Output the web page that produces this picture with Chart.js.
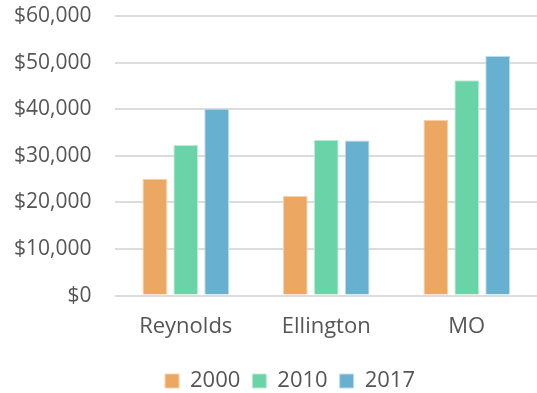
<!DOCTYPE html>
<html>
<head>
<meta charset="utf-8">
<script src="https://cdn.jsdelivr.net/npm/chart.js@4/dist/chart.umd.min.js"></script>
<style>
  html, body { margin: 0; padding: 0; background: #ffffff; }
  #wrap { width: 537px; height: 393px; }
</style>
</head>
<body>
<div id="wrap"><canvas id="chart" width="537" height="393"></canvas></div>
<script>
// Median household income by area and year
const areas = ["Reynolds", "Ellington", "MO"];
const years = ["2000", "2010", "2017"];
const income2000 = [25100, 21400, 37700];
const income2010 = [32300, 33400, 46200];
const income2017 = [40100, 33300, 51400];
const yTicks = [0, 10000, 20000, 30000, 40000, 50000, 60000];

const fills = ["#eca862", "#6bd3a8", "#68b0d0"];
const edges = ["#f6d2ac", "#b9ecd6", "#b8dcec"];
const seriesValues = [income2000, income2010, income2017];

const fontFamily = "'Open Sans', Lato, sans-serif";
const textColor = "#555555";

// nudges the centred legend row to the right
const legendOffset = {
  id: "legendOffset",
  afterLayout(chart) {
    const lg = chart.legend;
    if (lg) { lg.left += 25; lg.right += 25; }
  }
};

new Chart(document.getElementById("chart"), {
  type: "bar",
  data: {
    labels: areas,
    datasets: years.map((y, i) => ({
      label: y,
      data: seriesValues[i],
      backgroundColor: fills[i],
      borderColor: edges[i],
      borderWidth: 1,
      categoryPercentage: 0.66,
      barPercentage: 0.8
    }))
  },
  options: {
    responsive: false,
    animation: false,
    layout: { padding: { top: 16, right: -3, left: -10, bottom: -9 } },
    scales: {
      x: {
        grid: { display: false, drawTicks: false },
        border: { display: false },
        ticks: { color: textColor, font: { family: fontFamily, size: 22 }, padding: 18 },
        afterFit: (axis) => { axis.paddingRight = -3; }
      },
      y: {
        min: 0,
        max: 60000,
        afterBuildTicks: (axis) => { axis.ticks = yTicks.map(v => ({ value: v })); },
        // keep the tick padding from pushing the plot inwards
        afterFit: (axis) => { axis.paddingTop = 0; axis.paddingBottom = 0; axis.paddingRight = -3; },
        grid: { color: "#dcdcdc", lineWidth: 2, drawTicks: false },
        border: { display: false },
        ticks: {
          color: textColor,
          font: { family: fontFamily, size: 21 },
          padding: 24,
          callback: (v) => "$" + Number(v).toLocaleString("en-US")
        }
      }
    },
    plugins: {
      legend: {
        position: "bottom",
        labels: {
          color: textColor,
          font: { family: fontFamily, size: 22 },
          boxWidth: 14,
          boxHeight: 14,
          padding: 12
        }
      },
      tooltip: { enabled: false }
    }
  },
  plugins: [legendOffset]
});
</script>
</body>
</html>
